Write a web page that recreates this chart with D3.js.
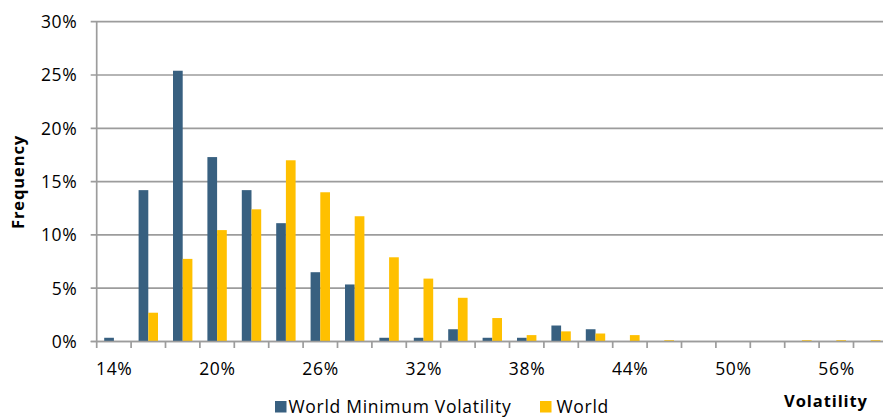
<!DOCTYPE html>
<html>
<head>
<meta charset="utf-8">
<script src="https://cdn.jsdelivr.net/npm/d3@7/dist/d3.min.js"></script>
<style>
  html, body { margin: 0; padding: 0; background: #ffffff; }
  svg { display: block; font-family: "Open Sans", sans-serif; }
</style>
</head>
<body>
<svg id="chart" width="883" height="418"></svg>
<script>
// Volatility buckets (2% wide) and the share of months falling in each
const categories = ["14%","16%","18%","20%","22%","24%","26%","28%","30%","32%","34%","36%","38%",
                    "40%","42%","44%","46%","48%","50%","52%","54%","56%","58%"];
const minVol = [0.35, 14.2, 25.4, 17.3, 14.2, 11.1, 6.5, 5.35, 0.35, 0.35, 1.15, 0.35, 0.35,
                1.5, 1.15, 0, 0, 0, 0, 0, 0, 0, 0];
const world  = [0, 2.7, 7.75, 10.45, 12.4, 17.0, 14.0, 11.75, 7.9, 5.9, 4.1, 2.2, 0.6,
                0.95, 0.75, 0.6, 0.12, 0, 0, 0, 0.12, 0.12, 0.12];
const seriesNames = ["World Minimum Volatility", "World"];
const seriesColors = ["#386080", "#FFC000"];
const yTicks = [0, 5, 10, 15, 20, 25, 30];
const xLabels = ["14%","20%","26%","32%","38%","44%","50%","56%"];

const svg = d3.select("#chart");
const plotLeft = 96.7, plotTop = 21.7, plotBottom = 341.5;
const step = 34.4;
const plotRight = plotLeft + step * categories.length;

const x = d3.scaleBand().domain(categories).range([plotLeft, plotRight])
  .paddingInner(0.436).paddingOuter(0.218);
const xs = d3.scaleBand().domain(seriesNames).range([0, x.bandwidth()]);
const y = d3.scaleLinear().domain([0, 30]).range([plotBottom, plotTop]);

const gridColor = "#9c9c9c";
const labelSize = 17.5, labelSpacing = 0.7;

// horizontal gridlines (with outside tick stubs)
svg.append("g").selectAll("line").data(yTicks).join("line")
  .attr("x1", plotLeft - 6).attr("x2", plotRight)
  .attr("y1", d => y(d)).attr("y2", d => y(d))
  .attr("stroke", gridColor).attr("stroke-width", 1.7);

// y axis line
svg.append("line").attr("x1", plotLeft).attr("x2", plotLeft)
  .attr("y1", plotTop).attr("y2", plotBottom)
  .attr("stroke", gridColor).attr("stroke-width", 1.7);

// y tick labels
svg.append("g").selectAll("text").data(yTicks).join("text")
  .attr("x", 77.5).attr("y", d => y(d) + 6.3)
  .attr("text-anchor", "end")
  .attr("font-size", labelSize).attr("letter-spacing", labelSpacing).attr("fill", "#000")
  .text(d => d + "%");

// bars
const rows = categories.map((c, i) => ({ cat: c, vals: [minVol[i], world[i]] }));
const groups = svg.append("g").selectAll("g").data(rows).join("g")
  .attr("transform", d => `translate(${x(d.cat)},0)`);
groups.selectAll("rect").data(d => d.vals.map((v, k) => ({ v, k })))
  .join("rect")
  .attr("x", d => xs(seriesNames[d.k]))
  .attr("width", xs.bandwidth())
  .attr("y", d => y(d.v))
  .attr("height", d => plotBottom - y(d.v))
  .attr("fill", d => seriesColors[d.k]);

// x axis baseline and category boundary ticks
svg.append("line").attr("x1", plotLeft - 6).attr("x2", plotRight)
  .attr("y1", plotBottom).attr("y2", plotBottom)
  .attr("stroke", gridColor).attr("stroke-width", 1.7);
const bounds = d3.range(categories.length + 1).map(i => plotLeft + i * x.step());
svg.append("g").selectAll("line").data(bounds).join("line")
  .attr("x1", d => d).attr("x2", d => d)
  .attr("y1", plotBottom).attr("y2", plotBottom + 6.5)
  .attr("stroke", gridColor).attr("stroke-width", 1.7);

// x tick labels every third bucket
svg.append("g").selectAll("text").data(xLabels).join("text")
  .attr("x", d => x(d) + x.bandwidth() / 2 + labelSpacing / 2)
  .attr("y", 375)
  .attr("text-anchor", "middle")
  .attr("font-size", labelSize).attr("letter-spacing", labelSpacing).attr("fill", "#000")
  .text(d => d);

// axis titles
svg.append("text")
  .attr("transform", "translate(24,182) rotate(-90)")
  .attr("text-anchor", "middle")
  .attr("font-size", 16.5).attr("letter-spacing", 0.9).attr("font-weight", "bold")
  .text("Frequency");
svg.append("text")
  .attr("x", 826).attr("y", 407)
  .attr("text-anchor", "middle")
  .attr("font-size", 16.5).attr("letter-spacing", 0.9).attr("font-weight", "bold")
  .text("Volatility");

// legend
const legendItems = [
  { name: seriesNames[0], color: seriesColors[0], sx: 275, tx: 288.5 },
  { name: seriesNames[1], color: seriesColors[1], sx: 540, tx: 556.5 }
];
const lg = svg.append("g").selectAll("g").data(legendItems).join("g");
lg.append("rect").attr("x", d => d.sx).attr("y", 401)
  .attr("width", 11.5).attr("height", 11.5).attr("fill", d => d.color);
lg.append("text").attr("x", d => d.tx).attr("y", 412.5)
  .attr("font-size", labelSize).attr("letter-spacing", labelSpacing).attr("fill", "#000")
  .text(d => d.name);
</script>
</body>
</html>
